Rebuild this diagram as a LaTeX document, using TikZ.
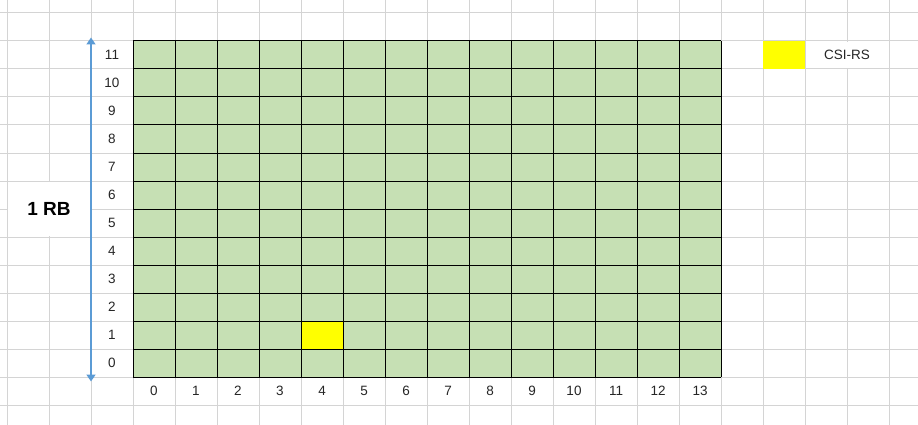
\documentclass[tikz,border=0pt]{standalone}
\usepackage{fontspec}
\setmainfont{Liberation Sans}
\usetikzlibrary{arrows.meta}
\definecolor{gridgray}{HTML}{D4D4D4}
\definecolor{cellgreen}{HTML}{C6E0B4}
\definecolor{arrowblue}{HTML}{5B9BD5}
\definecolor{csiyellow}{HTML}{FFFF00}
\begin{document}
\begin{tikzpicture}[x=1pt,y=-1pt,
  sheetline/.style={gridgray, line width=1pt},
  cellline/.style={black, line width=1pt},
  lbl/.style={font=\fontsize{13.5}{15}\selectfont, inner sep=0pt, text=black!85},
  biglbl/.style={font=\fontsize{19}{22}\selectfont\bfseries, inner sep=0pt, text=black},
  rbarrow/.style={arrowblue, line width=1.7pt, {Triangle[width=9pt,length=7pt]}-{Triangle[width=9pt,length=7pt]}}]
\useasboundingbox (0,0) rectangle (918,425);
\fill[white] (0,0) rectangle (918,425);
% spreadsheet background grid
\foreach \i in {0,...,21} { \draw[sheetline] ({7+42*\i},0) -- ({7+42*\i},425); }
\foreach \j in {0,...,14} { \draw[sheetline] (0,{13+28*\j}) -- (918,{13+28*\j}); }
% merged cells (interior lines hidden)
\fill[white] (7.6,181.6) rectangle (90.4,236.4);
\fill[white] (805.6,41.6) rectangle (888.4,68.4);
% resource grid
\fill[cellgreen] (133,41) rectangle (721,377);
\fill[csiyellow] (301,321) rectangle (343,349);
\foreach \i in {0,...,14} { \draw[cellline] ({133+42*\i},41) -- ({133+42*\i},377); }
\foreach \j in {0,...,12} { \draw[cellline] (133,{41+28*\j}) -- (721,{41+28*\j}); }
% row labels
\foreach \r in {0,...,11} { \node[lbl] (r\r) at (112,{41+28*(11-\r)+14}) {\r}; }
% column labels
\foreach \c in {0,...,13} { \node[lbl] (c\c) at ({154+42*\c},391) {\c}; }
% RB arrow
\coordinate (atop) at (91,37.5);
\coordinate (abot) at (91,381.5);
\draw[rbarrow] (atop) -- (abot);
\node[biglbl] (rb) at (49,209) {1 RB};
% legend
\fill[csiyellow] (763,41) rectangle (805,69);
\node[lbl] (csi) at (847,55) {CSI-RS};
\end{tikzpicture}
\end{document}
